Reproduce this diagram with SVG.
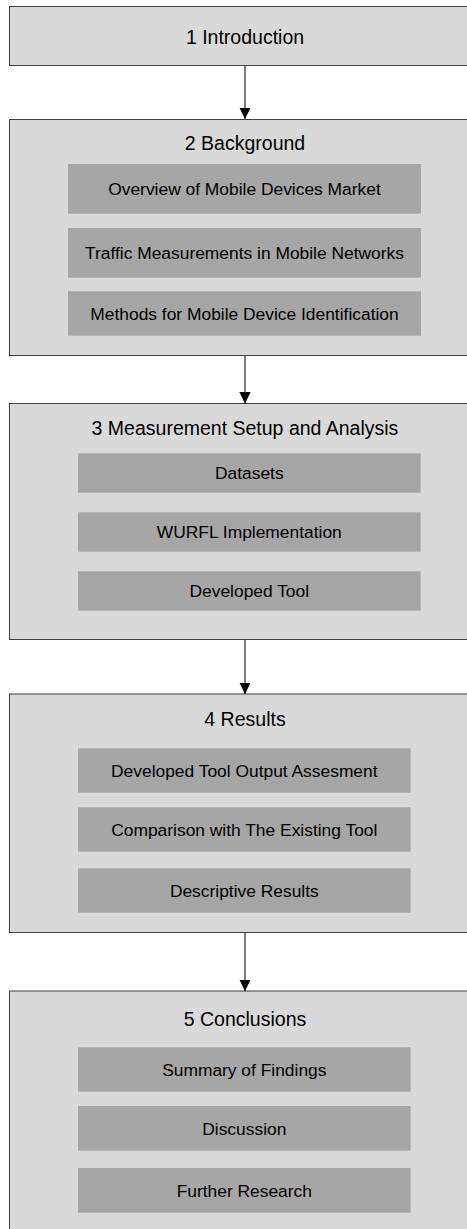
<svg xmlns="http://www.w3.org/2000/svg" width="467" height="1229" viewBox="0 0 467 1229">
<style>
.outer{fill:#d9d9d9;stroke:#404040;stroke-width:1}
.inner{fill:#a6a6a6;stroke:none}
.title{font-family:"Liberation Sans",Arial,sans-serif;font-size:19.5px;fill:#000;text-anchor:middle}
.sub{font-family:"Liberation Sans",Arial,sans-serif;font-size:17.4px;fill:#000;text-anchor:middle}
.conn{stroke:#000;stroke-width:1;fill:none}
</style>
<defs>
<marker id="arrow" markerUnits="userSpaceOnUse" markerWidth="12" markerHeight="13" refX="11.5" refY="6" orient="auto">
<path d="M0,0.3 L11.5,6 L0,11.7 Z" fill="#000"/>
</marker>
</defs>
<rect width="467" height="1229" fill="#fff"/>
<g id="n1">
<rect class="outer" x="9.5" y="6.5" width="470" height="59"/>
<text class="title" x="245" y="43.5">1 Introduction</text>
</g>
<g id="n2">
<rect class="outer" x="9.5" y="119.5" width="470" height="236"/>
<text class="title" x="245" y="149.5">2 Background</text>
<rect class="inner" x="68" y="164" width="353" height="49.7"/>
<text class="sub" x="244.5" y="195">Overview of Mobile Devices Market</text>
<rect class="inner" x="68" y="228" width="353" height="49.7"/>
<text class="sub" x="244.5" y="259">Traffic Measurements in Mobile Networks</text>
<rect class="inner" x="68" y="291.3" width="353" height="44.4"/>
<text class="sub" x="244.5" y="319.7">Methods for Mobile Device Identification</text>
</g>
<g id="n3">
<rect class="outer" x="9.5" y="403.5" width="470" height="236"/>
<text class="title" x="245" y="435">3 Measurement Setup and Analysis</text>
<rect class="inner" x="78" y="453.3" width="342.7" height="39.4"/>
<text class="sub" x="249.3" y="479.4">Datasets</text>
<rect class="inner" x="78" y="512.3" width="342.7" height="39.4"/>
<text class="sub" x="249.3" y="538.3">WURFL Implementation</text>
<rect class="inner" x="78" y="571.3" width="342.7" height="39.4"/>
<text class="sub" x="249.3" y="597.3">Developed Tool</text>
</g>
<g id="n4">
<rect class="outer" x="9.5" y="694" width="470" height="238.5"/>
<text class="title" x="245" y="725.7">4 Results</text>
<rect class="inner" x="78" y="748.3" width="332.7" height="44.4"/>
<text class="sub" x="244.3" y="776.7">Developed Tool Output Assesment</text>
<rect class="inner" x="78" y="807.3" width="332.7" height="44.4"/>
<text class="sub" x="244.3" y="835.7">Comparison with The Existing Tool</text>
<rect class="inner" x="78" y="868.3" width="332.7" height="44.4"/>
<text class="sub" x="244.3" y="896.7">Descriptive Results</text>
</g>
<g id="n5">
<rect class="outer" x="9.5" y="991" width="470" height="260"/>
<text class="title" x="245" y="1025.7">5 Conclusions</text>
<rect class="inner" x="78" y="1047.3" width="332.7" height="44.4"/>
<text class="sub" x="244.3" y="1075.7">Summary of Findings</text>
<rect class="inner" x="78" y="1106" width="332.7" height="44.7"/>
<text class="sub" x="244.3" y="1134.6">Discussion</text>
<rect class="inner" x="78" y="1168" width="332.7" height="44.7"/>
<text class="sub" x="244.3" y="1196.6">Further Research</text>
</g>
<g id="connectors">
<line class="conn" x1="245" y1="66" x2="245" y2="119" marker-end="url(#arrow)"/>
<line class="conn" x1="245" y1="356" x2="245" y2="403.5" marker-end="url(#arrow)"/>
<line class="conn" x1="245" y1="640" x2="245" y2="694" marker-end="url(#arrow)"/>
<line class="conn" x1="245" y1="933" x2="245" y2="991" marker-end="url(#arrow)"/>
</g>
</svg>
